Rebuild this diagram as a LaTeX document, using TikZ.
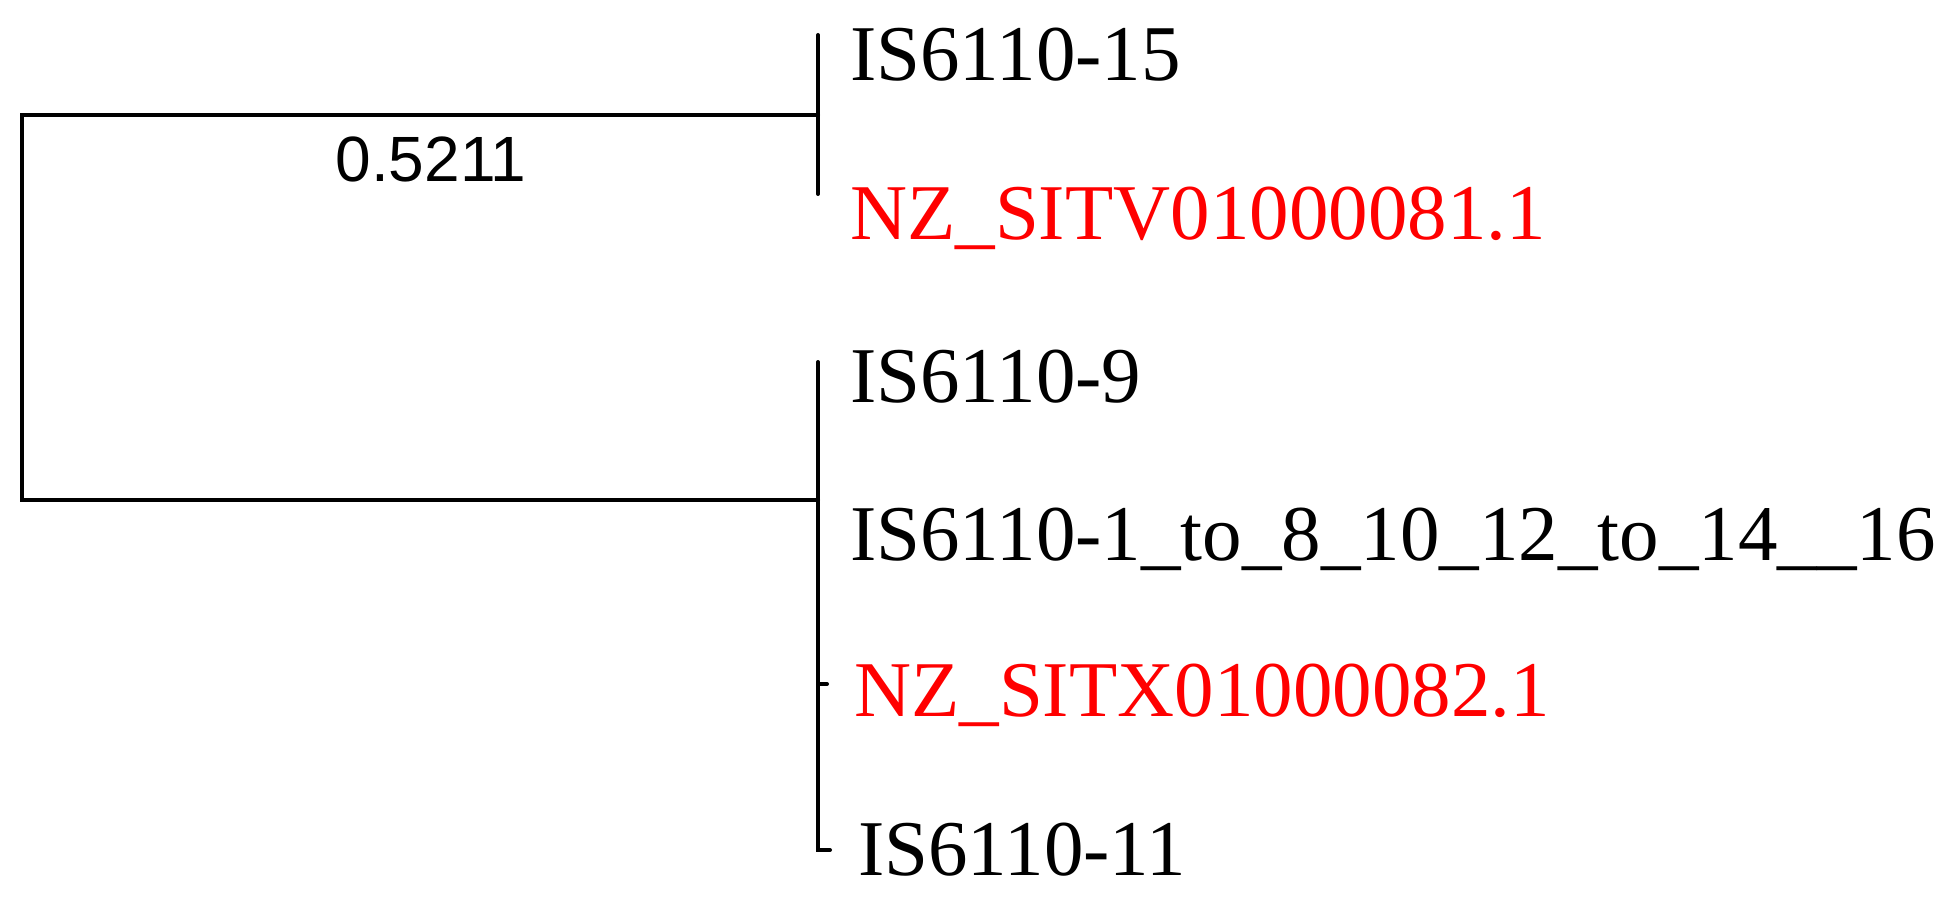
\documentclass[tikz,border=0pt]{standalone}
\usepackage{fontspec}
\setmainfont{Liberation Serif}
\newfontfamily\lsans{Liberation Sans}
\begin{document}
\begin{tikzpicture}[x=1pt,y=-1pt,
  br/.style={line width=4pt,line cap=round},
  leaf/.style={anchor=base west,inner sep=0pt,font=\fontsize{79}{79}\selectfont},
  red/.style={text={rgb,255:red,255;green,0;blue,0}}]
\useasboundingbox (0,0) rectangle (1959,909);
\coordinate (r1) at (22,115);
\coordinate (r2) at (22,500);
\coordinate (a) at (818,115);
\coordinate (b) at (818,500);
\coordinate (at) at (818,35);
\coordinate (ab) at (818,194);
\coordinate (bt) at (818,362);
\coordinate (bb) at (818,850);
\coordinate (bbe) at (830,850);
\coordinate (t1) at (818,684);
\coordinate (t1e) at (827,684);
\draw[br] (a) -- (r1) -- (r2) -- (b);
\draw[br] (at) -- (ab);
\draw[br] (bt) -- (bb) -- (bbe);
\draw[br] (t1) -- (t1e);
\node[anchor=center,font=\lsans\fontsize{64}{64}\selectfont] (lab) at (431,159) {0.5211};
\node[leaf] (l1) at (850,81) {IS6110-15};
\node[leaf,red] (l2) at (850,240) {NZ\_SITV01000081.1};
\node[leaf] (l3) at (850,402) {IS6110-9};
\node[leaf] (l4) at (850,560) {IS6110-1\_to\_8\_10\_12\_to\_14\_\_16};
\node[leaf,red] (l5) at (854,716) {NZ\_SITX01000082.1};
\node[leaf] (l6) at (858,875) {IS6110-11};
\end{tikzpicture}
\end{document}
